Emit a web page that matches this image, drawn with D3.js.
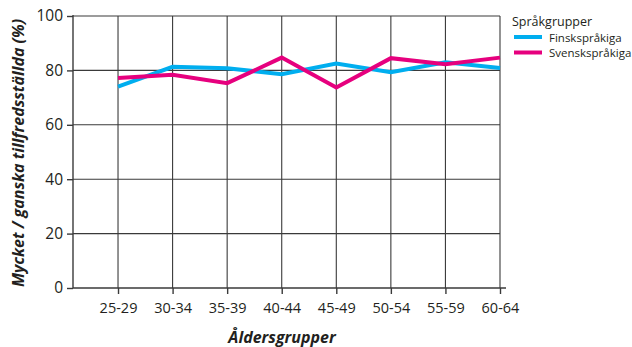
<!DOCTYPE html>
<html><head><meta charset="utf-8">
<script src="https://cdn.jsdelivr.net/npm/d3@7"></script>
<style>body{margin:0;background:#fff}svg{display:block}text{font-family:"Open Sans","Noto Sans",sans-serif;fill:#231f20}</style>
</head><body><svg width="632" height="347"></svg>
<script>
const categories = ["25-29","30-34","35-39","40-44","45-49","50-54","55-59","60-64"];
const finskspråkiga = [74.0, 81.3, 80.8, 78.6, 82.5, 79.3, 83.0, 80.9];
const svenskspråkiga = [77.2, 78.4, 75.3, 84.7, 73.7, 84.5, 82.3, 84.7];
const yTicks = [0, 20, 40, 60, 80, 100];
const seriesNames = ["Finskspråkiga", "Svenskspråkiga"];
const seriesColors = ["#00aeef", "#e6007e"];
const legendTitle = "Språkgrupper";
const xTitle = "Åldersgrupper";
const yTitle = "Mycket / ganska tillfredsställda (%)";

const svg = d3.select("svg");
const x = d3.scaleLinear().domain([-0.825, categories.length - 1]).range([73, 500]);
const y = d3.scaleLinear().domain([0, 100]).range([288, 16]);
const gridColor = "#3a3a3a";

// horizontal grid
svg.append("g").selectAll("line").data(yTicks.filter(d => d > 0)).join("line")
  .attr("x1", x(-0.825)).attr("x2", x(categories.length - 1))
  .attr("y1", d => y(d)).attr("y2", d => y(d))
  .attr("stroke", gridColor).attr("stroke-width", 1.1);
// vertical grid
svg.append("g").selectAll("line").data(categories).join("line")
  .attr("x1", (d, i) => x(i)).attr("x2", (d, i) => x(i))
  .attr("y1", y(100)).attr("y2", y(0))
  .attr("stroke", gridColor).attr("stroke-width", 1.1);

// y axis
const yAxis = svg.append("g").attr("transform", `translate(${x(-0.825)},0)`)
  .call(d3.axisLeft(y).tickValues(yTicks).tickSize(6).tickPadding(4));
yAxis.select(".domain").attr("stroke", gridColor).attr("stroke-width", 1.4).attr("d", `M0,${y(100)-1}V${y(0)}`);
yAxis.selectAll(".tick line").attr("stroke", gridColor).attr("stroke-width", 1.4);
yAxis.selectAll("text").attr("font-size", 15.5).attr("fill", "#231f20");

// x axis
const xAxis = svg.append("g").attr("transform", `translate(0,${y(0)})`)
  .call(d3.axisBottom(x).tickValues(d3.range(categories.length)).tickFormat(i => categories[i]).tickSize(6).tickPadding(9));
xAxis.select(".domain").attr("stroke", gridColor).attr("stroke-width", 1.4).attr("d", `M${x(-0.825)},0H${x(categories.length - 1) + 6}`);
xAxis.selectAll(".tick line").attr("stroke", gridColor).attr("stroke-width", 1.4);
xAxis.selectAll("text").attr("font-size", 14.5).attr("fill", "#231f20");

// lines
const line = d3.line().x((d, i) => x(i)).y(d => y(d));
[finskspråkiga, svenskspråkiga].forEach((s, k) => {
  svg.append("path").datum(s).attr("d", line).attr("fill", "none")
    .attr("stroke", seriesColors[k]).attr("stroke-width", 4).attr("stroke-linejoin", "miter");
});

// axis titles
svg.append("text").attr("x", 282).attr("y", 343).attr("text-anchor", "middle")
  .attr("font-size", 16).attr("font-weight", "bold").attr("font-style", "italic").text(xTitle);
svg.append("text").attr("transform", `translate(24,153) rotate(-90)`).attr("text-anchor", "middle")
  .attr("font-size", 16).attr("font-weight", "bold").attr("font-style", "italic").text(yTitle);

// legend
const lg = svg.append("g");
lg.append("text").attr("x", 512).attr("y", 26).attr("font-size", 12.5).text(legendTitle);
seriesNames.forEach((n, k) => {
  const yy = 37 + k * 15.5;
  lg.append("line").attr("x1", 514).attr("x2", 542).attr("y1", yy).attr("y2", yy)
    .attr("stroke", seriesColors[k]).attr("stroke-width", 4);
  lg.append("text").attr("x", 549).attr("y", yy + 4.5).attr("font-size", 11.5).text(n);
});
</script></body></html>
